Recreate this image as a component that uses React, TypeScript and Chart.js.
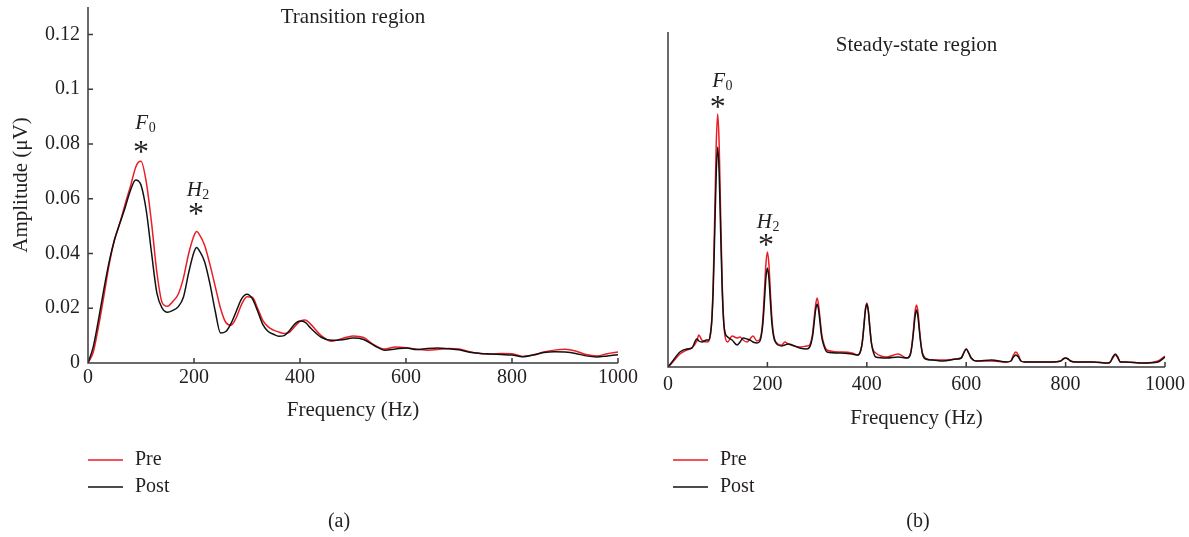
import React, { useEffect, useRef } from 'react';
import { Chart, registerables } from 'chart.js';

Chart.register(...registerables);

const FONT = "'Liberation Serif', 'Times New Roman', serif";
const TEXT = '#231f20';
const AXIS = '#3a3a3a';
const RED = '#ec1c24';
const BLACK = '#111111';

// ---------- (a) Transition region ----------
const freqA = [0, 10, 20, 30, 40, 50, 60, 70, 80, 90, 95, 100, 110, 120, 130, 140, 150, 160, 170, 180, 190, 200, 205, 210, 220, 230, 240, 250, 260, 270, 280, 290, 300, 310, 320, 330, 340, 350, 360, 370, 380, 390, 400, 410, 420, 440, 460, 480, 500, 520, 540, 560, 580, 600, 620, 640, 660, 680, 700, 720, 740, 760, 780, 800, 820, 840, 860, 880, 900, 920, 940, 960, 980, 1000];
const preA = [0, 0.004, 0.0135, 0.0245, 0.036, 0.045, 0.051, 0.058, 0.0645, 0.0715, 0.0733, 0.0737, 0.066, 0.051, 0.033, 0.022, 0.0207, 0.0225, 0.025, 0.031, 0.040, 0.0465, 0.048, 0.047, 0.043, 0.036, 0.028, 0.020, 0.0148, 0.0138, 0.0167, 0.0215, 0.0242, 0.0240, 0.0200, 0.0155, 0.0132, 0.0120, 0.0113, 0.0108, 0.0112, 0.0133, 0.0152, 0.0157, 0.0142, 0.0100, 0.0079, 0.0090, 0.0099, 0.0093, 0.0066, 0.0051, 0.0058, 0.0056, 0.0050, 0.0047, 0.0049, 0.0053, 0.0051, 0.0041, 0.0035, 0.0032, 0.0035, 0.0034, 0.0024, 0.0030, 0.0040, 0.0047, 0.0050, 0.0044, 0.0031, 0.0026, 0.0034, 0.0040];
const postA = [0, 0.006, 0.016, 0.027, 0.037, 0.045, 0.051, 0.0567, 0.063, 0.0668, 0.0665, 0.065, 0.0556, 0.040, 0.0255, 0.020, 0.0185, 0.0192, 0.0205, 0.024, 0.033, 0.0405, 0.0422, 0.0410, 0.037, 0.029, 0.019, 0.011, 0.0115, 0.0145, 0.019, 0.0235, 0.0251, 0.0235, 0.019, 0.014, 0.0115, 0.0105, 0.0098, 0.0100, 0.0118, 0.0142, 0.0153, 0.0148, 0.0128, 0.0094, 0.0083, 0.0085, 0.0091, 0.0086, 0.0064, 0.0047, 0.0051, 0.0055, 0.0049, 0.0053, 0.0055, 0.0052, 0.0048, 0.0039, 0.0035, 0.0033, 0.0031, 0.0029, 0.0023, 0.0029, 0.0038, 0.0041, 0.0040, 0.0035, 0.0026, 0.0022, 0.0026, 0.0030];
const yTicksA = [0, 0.02, 0.04, 0.06, 0.08, 0.1, 0.12];
const yTickLabelsA = ['0', '0.02', '0.04', '0.06', '0.08', '0.1', '0.12'];
const yMaxA = 0.13;

// ---------- (b) Steady-state region (arbitrary amplitude units) ----------
const freqB = [0, 8, 24, 38, 48, 58, 62, 68, 78, 82, 85, 88, 91, 94, 97, 100, 103, 106, 109, 112, 115, 120, 129, 139, 145, 151, 159, 165, 171, 179, 185, 188, 191, 194, 197, 200, 203, 206, 209, 212, 216, 229, 235, 242, 265, 279, 285, 288, 291, 294, 297, 300, 303, 306, 309, 312, 320, 346, 370, 382, 388, 391, 394, 397, 400, 403, 406, 409, 412, 418, 440, 463, 481, 488, 491, 494, 497, 500, 503, 506, 509, 512, 518, 533, 553, 580, 590, 595, 600, 605, 610, 620, 651, 681, 690, 695, 700, 705, 710, 718, 748, 769, 790, 795, 800, 805, 810, 820, 855, 885, 890, 895, 900, 905, 910, 920, 956, 986, 1000];
const postB = [0, 5, 15, 18, 19, 28, 26, 25, 27, 27, 32, 45, 78, 134, 193, 220, 193, 134, 78, 45, 34, 30, 27, 22, 25, 29, 28, 27, 25, 24, 26, 32, 44, 66, 89, 99, 89, 66, 44, 32, 25, 21, 22, 23, 19, 18, 20, 24, 31, 44, 57, 63, 57, 44, 31, 24, 15, 14, 13, 12, 17, 25, 40, 56, 63, 56, 40, 25, 17, 10, 9, 10, 9, 13, 22, 35, 50, 57, 50, 35, 22, 13, 8, 7, 6, 8, 9, 14, 18, 14, 9, 6, 7, 5, 6, 10, 12, 10, 6, 5, 5, 5, 6, 8, 9, 8, 6, 5, 5, 4, 5, 10, 13, 10, 5, 5, 4, 5, 10];
const preB = [0, 4, 13, 17, 19, 26, 32, 27, 25, 26, 31, 47, 85, 151, 222, 253, 222, 151, 85, 47, 30, 25, 31, 29, 30, 27, 25, 28, 31, 26, 28, 34, 49, 75, 103, 115, 103, 75, 49, 34, 26, 22, 25, 23, 20, 21, 22, 26, 34, 48, 62, 69, 62, 48, 34, 26, 17, 15, 14, 12, 17, 25, 40, 57, 64, 57, 40, 25, 18, 14, 10, 13, 9, 14, 23, 38, 55, 62, 55, 38, 23, 14, 9, 7, 7, 8, 9, 14, 18, 14, 9, 6, 6, 5, 6, 12, 15, 12, 6, 5, 5, 5, 6, 8, 9, 8, 6, 5, 5, 4, 5, 9, 12, 9, 5, 5, 4, 6, 11];
const yMaxB = 335;

const xTicks = [0, 200, 400, 600, 800, 1000];
const seriesNames = ['Pre', 'Post'];

// annotation anchors (data coordinates)
const notesA = [
  { main: 'F', sub: '0', hz: 108, amp: 0.0855, starHz: 100, starAmp: 0.0789 },
  { main: 'H', sub: '2', hz: 207, amp: 0.0611, starHz: 204, starAmp: 0.0564 },
];
const notesB = [
  { main: 'F', sub: '0', hz: 109, amp: 280, starHz: 100, starAmp: 265 },
  { main: 'H', sub: '2', hz: 201, amp: 139, starHz: 197, starAmp: 127 },
];

type Note = { main: string; sub: string; hz: number; amp: number; starHz: number; starAmp: number };
type Deco = {
  title: string; titleY: number; yTicks: boolean; notes: Note[];
  legendX: number; legendY: number; caption: string; captionX: number; captionY: number;
};

function decoPlugin(d: Deco) {
  return {
    id: 'deco',
    afterDraw(chart: any) {
      const { ctx, chartArea, scales } = chart;
      const xs = scales.x, ys = scales.y;
      ctx.save();
      ctx.strokeStyle = AXIS;
      ctx.lineWidth = 1.5;
      ctx.beginPath();
      ctx.moveTo(chartArea.left, chartArea.top);
      ctx.lineTo(chartArea.left, chartArea.bottom);
      ctx.lineTo(chartArea.right, chartArea.bottom);
      for (const t of xs.ticks) {
        const px = xs.getPixelForValue(t.value);
        ctx.moveTo(px, chartArea.bottom);
        ctx.lineTo(px, chartArea.bottom - 5);
      }
      if (d.yTicks) {
        for (const t of ys.ticks) {
          const py = ys.getPixelForValue(t.value);
          ctx.moveTo(chartArea.left, py);
          ctx.lineTo(chartArea.left + 5, py);
        }
      }
      ctx.stroke();

      ctx.fillStyle = TEXT;
      ctx.font = `21px ${FONT}`;
      ctx.textAlign = 'center';
      ctx.textBaseline = 'middle';
      ctx.fillText(d.title, (chartArea.left + chartArea.right) / 2, d.titleY);

      for (const n of d.notes) {
        const cx = xs.getPixelForValue(n.hz);
        const by = ys.getPixelForValue(n.amp);
        ctx.textAlign = 'left';
        ctx.textBaseline = 'alphabetic';
        ctx.font = `italic 21px ${FONT}`;
        const w1 = ctx.measureText(n.main).width;
        ctx.font = `14px ${FONT}`;
        const w2 = ctx.measureText(n.sub).width;
        const x0 = cx - (w1 + w2) / 2;
        ctx.font = `italic 21px ${FONT}`;
        ctx.fillText(n.main, x0, by);
        ctx.font = `14px ${FONT}`;
        ctx.fillText(n.sub, x0 + w1 + 0.5, by + 3);
        ctx.font = `32px ${FONT}`;
        const m = ctx.measureText('*');
        const sx = xs.getPixelForValue(n.starHz);
        const sy = ys.getPixelForValue(n.starAmp);
        const asc = m.actualBoundingBoxAscent, desc = m.actualBoundingBoxDescent;
        ctx.textAlign = 'center';
        ctx.fillText('*', sx, sy + (asc - desc) / 2);
      }

      const colors = [RED, BLACK];
      ctx.font = `20px ${FONT}`;
      ctx.textAlign = 'left';
      ctx.textBaseline = 'middle';
      seriesNames.forEach((name, i) => {
        const y = d.legendY + i * 27;
        ctx.strokeStyle = colors[i];
        ctx.lineWidth = 1.5;
        ctx.beginPath();
        ctx.moveTo(d.legendX, y);
        ctx.lineTo(d.legendX + 35, y);
        ctx.stroke();
        ctx.fillStyle = TEXT;
        ctx.fillText(name, d.legendX + 47, y);
      });

      ctx.textAlign = 'center';
      ctx.fillText(d.caption, d.captionX, d.captionY);
      ctx.restore();
    },
  };
}

function makeConfig(opts: {
  freq: number[]; pre: number[]; post: number[]; yMax: number; yTicks: number[] | null;
  yLabels: string[] | null; padding: any; yWidth: number; xHeight: number;
  tickPad: number; titlePadBottom: number; deco: Deco;
}): any {
  const fontT = { family: FONT, size: 20 };
  const fontAx = { family: FONT, size: 21 };
  return {
    type: 'line',
    data: {
      datasets: [
        {
          label: seriesNames[0],
          data: opts.freq.map((f, i) => ({ x: f, y: opts.pre[i] })),
          borderColor: RED, borderWidth: 1.5, pointRadius: 0,
          cubicInterpolationMode: 'monotone', order: 1, fill: false,
        },
        {
          label: seriesNames[1],
          data: opts.freq.map((f, i) => ({ x: f, y: opts.post[i] })),
          borderColor: BLACK, borderWidth: 1.5, pointRadius: 0,
          cubicInterpolationMode: 'monotone', order: 0, fill: false,
        },
      ],
    },
    options: {
      responsive: false,
      animation: false,
      events: [],
      layout: { padding: opts.padding },
      plugins: { legend: { display: false }, tooltip: { enabled: false }, title: { display: false } },
      scales: {
        x: {
          type: 'linear', min: 0, max: 1000,
          afterBuildTicks: (s: any) => { s.ticks = xTicks.map((v) => ({ value: v })); },
          afterFit: (s: any) => { s.height = opts.xHeight; s.paddingLeft = 0; s.paddingRight = 0; },
          grid: { display: false, drawTicks: false }, border: { display: false },
          ticks: {
            font: fontT, color: TEXT, padding: opts.tickPad, maxRotation: 0, autoSkip: false,
            callback: (v: any) => String(v),
          },
          title: {
            display: true, text: 'Frequency (Hz)', font: fontAx, color: TEXT,
            padding: { top: 0, bottom: opts.titlePadBottom },
          },
        },
        y: {
          type: 'linear', min: 0, max: opts.yMax,
          display: opts.yTicks !== null,
          afterBuildTicks: (s: any) => { if (opts.yTicks) s.ticks = opts.yTicks.map((v) => ({ value: v })); },
          afterFit: (s: any) => { s.width = opts.yWidth; s.paddingTop = 0; s.paddingBottom = 0; },
          grid: { display: false, drawTicks: false }, border: { display: false },
          ticks: {
            font: fontT, color: TEXT, padding: 8,
            callback: (v: any) => {
              if (!opts.yTicks || !opts.yLabels) return '';
              const k = opts.yTicks.findIndex((t) => Math.abs(t - v) < 1e-9);
              return k >= 0 ? opts.yLabels[k] : '';
            },
          },
          title: {
            display: opts.yTicks !== null, text: 'Amplitude (\u03BCV)', font: fontAx, color: TEXT,
            padding: { top: 9, bottom: 0 },
          },
        },
      },
    },
    plugins: [decoPlugin(opts.deco)],
  };
}

function ChartCanvas({ config, width, height, left }: { config: () => any; width: number; height: number; left: number }) {
  const ref = useRef<HTMLCanvasElement | null>(null);
  useEffect(() => {
    if (!ref.current) return;
    const chart = new Chart(ref.current, config());
    return () => chart.destroy();
  }, []);
  return (
    <canvas
      ref={ref}
      width={width}
      height={height}
      style={{ position: 'absolute', left, top: 0, width, height, display: 'block' }}
    />
  );
}

export default function App() {
  const cfgA = () =>
    makeConfig({
      freq: freqA, pre: preA, post: postA, yMax: yMaxA, yTicks: yTicksA, yLabels: yTickLabelsA,
      padding: { left: 0, top: 7, right: 22, bottom: 0 }, yWidth: 88, xHeight: 174,
      tickPad: 3, titlePadBottom: 114,
      deco: {
        title: 'Transition region', titleY: 17, yTicks: true, notes: notesA,
        legendX: 88, legendY: 460, caption: '(a)', captionX: 339, captionY: 522,
      },
    });
  const cfgB = () =>
    makeConfig({
      freq: freqB, pre: preB, post: postB, yMax: yMaxB, yTicks: null, yLabels: null,
      padding: { left: 28, top: 32, right: 24, bottom: 0 }, yWidth: 0, xHeight: 170,
      tickPad: 6, titlePadBottom: 106,
      deco: {
        title: 'Steady-state region', titleY: 45, yTicks: false, notes: notesB,
        legendX: 33, legendY: 460, caption: '(b)', captionX: 278, captionY: 522,
      },
    });
  return (
    <div style={{ position: 'absolute', left: 0, top: 0, width: 1189, height: 537, background: '#fff', overflow: 'hidden' }}>
      <ChartCanvas config={cfgA} width={640} height={537} left={0} />
      <ChartCanvas config={cfgB} width={549} height={537} left={640} />
    </div>
  );
}
